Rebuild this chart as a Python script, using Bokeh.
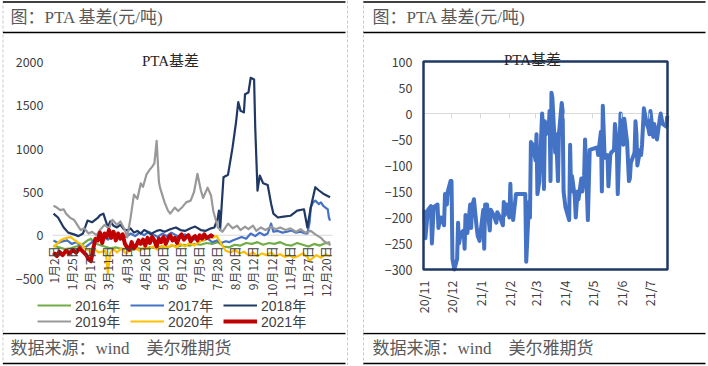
import math
import pandas as pd
from bokeh.plotting import figure
from bokeh.models import Range1d, FixedTicker, Label, BoxAnnotation, Legend, LegendItem
from bokeh.layouts import row, column
from bokeh.embed import file_html
from bokeh.resources import INLINE

# ---------------- data ----------------
HEADER = "图：PTA 基差(元/吨)"
FOOTER = "数据来源：wind\u3000美尔雅期货"
CHART_TITLE = "PTA基差"

# left chart: trading-day index within the year
left_ticks = [0, 16, 32, 48, 64, 80, 96, 112, 128, 144, 160, 176, 192, 208, 224, 240]
left_tick_labels = ["1月2日", "1月25日", "2月17日", "3月11日", "4月3日", "4月26日",
                    "5月20日", "6月12日", "7月5日", "7月28日", "8月20日", "9月12日",
                    "10月12日", "11月4日", "11月27日", "12月20日"]
left_yticks = [-500, 0, 500, 1000, 1500, 2000]
years = ["2016年", "2017年", "2018年", "2019年", "2020年", "2021年"]

s2016_x = [0, 5, 10, 15, 20, 25, 30, 33, 36, 40, 45, 50, 55, 60, 65, 70, 75, 80, 85, 90,
           95, 100, 105, 110, 115, 120, 125, 130, 135, 140, 145, 150, 155, 160, 165, 170,
           175, 180, 185, 190, 195, 200, 205, 210, 215, 220, 225, 230, 235, 240, 244]
s2016_y = [-120, -140, -160, -150, -130, -110, -60, -40, -90, -110, -130, -150, -140, -160,
           -150, -170, -150, -160, -140, -150, -130, -140, -120, -130, -110, -120, -100,
           -110, -90, -100, -80, -130, -140, -110, -120, -90, -100, -80, -110, -90, -100,
           -80, -110, -120, -90, -110, -130, -100, -120, -90, -100]

s2017_x = [0, 4, 8, 12, 16, 20, 24, 28, 32, 36, 40, 44, 48, 52, 56, 60, 64, 68, 72, 76,
           80, 84, 88, 92, 96, 100, 104, 108, 112, 116, 120, 124, 128, 132, 136, 140, 144,
           148, 152, 155, 158, 162, 166, 170, 174, 178, 182, 186, 189, 192, 194, 198, 202,
           206, 210, 214, 218, 222, 224, 226, 227, 229, 231, 234, 236, 238, 240, 242, 243, 244]
s2017_y = [-60, -90, -70, -60, -100, -80, -120, -140, -100, -60, -40, -20, -50, -10, -30,
           10, -20, 20, -10, 30, 0, 40, 10, -20, 20, -10, 30, 0, -30, 10, -20, -50, -20,
           -60, -40, -80, -60, -90, -70, -80, -60, -40, -20, -40, 20, -10, 30, 0, 20, 135,
           40, 50, 30, 40, 55, 30, 40, 20, 20, 150, 320, 380, 400, 360, 380, 340, 320, 300,
           205, 170]

s2018_x = [0, 4, 9, 13, 18, 22, 26, 30, 34, 39, 41, 44, 48, 50, 53, 56, 59, 62, 65, 68,
           71, 74, 77, 80, 83, 86, 88, 91, 94, 98, 103, 108, 112, 116, 121, 125, 130, 134,
           139, 142, 145, 146, 147, 150, 154, 158, 161, 163, 165, 168, 169, 172, 174, 177,
           178, 180, 182, 185, 189, 192, 194, 198, 203, 209, 215, 221, 224, 227, 231, 234,
           238, 244]
s2018_y = [250, 205, 90, 30, 10, -10, 20, 170, 150, 200, 230, 250, 90, 160, 110, 90, 120,
           70, 55, 80, 30, 50, 20, 60, 40, 10, 30, 50, 60, 40, 70, 90, 60, 50, 80, 100, 60,
           50, 80, 90, 205, 285, 60, 670, 700, 1015, 1300, 1540, 1440, 1420, 1630, 1650,
           1820, 1800, 1245, 515, 690, 600, 580, 365, 250, 205, 215, 225, 285, 300, 90, 320,
           555, 520, 480, 440]

s2019_x = [0, 3, 6, 9, 11, 15, 18, 21, 24, 27, 31, 34, 38, 41, 45, 49, 52, 56, 59, 63,
           65, 68, 71, 74, 77, 79, 82, 85, 87, 89, 91, 93, 94, 98, 101, 103, 107, 110, 114,
           117, 121, 124, 127, 130, 132, 136, 139, 141, 145, 149, 154, 158, 162, 165, 169,
           172, 176, 179, 183, 187, 192, 196, 200, 205, 209, 214, 218, 222, 227, 231, 236,
           238, 241, 243, 244]
s2019_y = [340, 320, 290, 300, 250, 200, 180, 120, 60, 80, 20, 40, 0, 60, 120, 80, 180,
           120, 160, 60, -25, 200, 470, 420, 600, 560, 700, 760, 790, 830, 1090, 620, 550,
           380, 285, 250, 320, 280, 330, 380, 400, 500, 710, 520, 430, 550, 460, 280, 90,
           40, 135, 80, 110, 60, 100, 70, 110, 50, 90, 60, 100, 70, 90, 60, 80, 40, 70, 30,
           50, 10, -30, -60, -90, -80, -120]

s2020_x = [0, 3, 6, 9, 12, 15, 18, 21, 24, 27, 30, 33, 36, 40, 46, 48, 50, 53, 56, 60,
           64, 68, 72, 76, 80, 84, 88, 92, 96, 100, 104, 108, 112, 116, 120, 124, 128, 132,
           136, 140, 144, 148, 152, 156, 160, 164, 168, 172, 176, 180, 184, 188, 192, 196,
           200, 204, 208, 212, 216, 220, 224, 226, 228, 232, 236, 240, 244]
s2020_y = [-140, -100, -60, -40, -30, -20, -50, -80, -100, -140, -170, -180, -160, -200,
           -180, -440, -200, -160, -200, -150, -210, -170, -150, -180, -140, -160, -130,
           -170, -120, -150, -110, -140, -100, -130, -90, -120, -80, -60, -20, -30, -10,
           -100, -180, -200, -170, -210, -190, -230, -200, -240, -210, -230, -200, -240,
           -220, -250, -230, -260, -240, -210, -250, -300, -270, -230, -260, -220, -240]

s2021_x = [0, 3, 5, 8, 11, 14, 17, 20, 23, 26, 29, 31, 33, 35, 37, 39, 41, 43, 45, 47,
           49, 51, 53, 55, 57, 59, 61, 63, 65, 67, 69, 71, 73, 75, 77, 79, 81, 83, 85, 87,
           89, 91, 93, 95, 97, 99, 101, 103, 105, 107, 109, 111, 113, 115, 117, 119, 121,
           123, 125, 127, 129, 131, 133, 135, 137, 139, 141]
s2021_y = [-200, -240, -190, -230, -180, -210, -170, -200, -150, -190, -230, -280, -300,
           -160, -40, -60, 30, -90, 20, -20, 60, -30, 40, -60, 20, -40, 10, -100, -140,
           -170, -80, -150, -120, -60, -100, -50, -120, -30, -90, -20, -60, -130, -40, -80,
           -20, -100, -40, 0, -60, -30, -90, -20, 10, -50, -20, 0, -70, -30, -10, -60, 0,
           -40, 10, -30, -20, 0, -20]

# right chart: daily basis, Nov 2020 - Jul 2021
right_dates = [
    "2020-11-02", "2020-11-03", "2020-11-05", "2020-11-06", "2020-11-09", "2020-11-10",
    "2020-11-12", "2020-11-16", "2020-11-17", "2020-11-19", "2020-11-20", "2020-11-23",
    "2020-11-24", "2020-11-26", "2020-11-27", "2020-11-30", "2020-12-01", "2020-12-02",
    "2020-12-04", "2020-12-07", "2020-12-08", "2020-12-09", "2020-12-11", "2020-12-14",
    "2020-12-15", "2020-12-16", "2020-12-18", "2020-12-21", "2020-12-22", "2020-12-23",
    "2020-12-25", "2020-12-28", "2020-12-29", "2020-12-31", "2021-01-04", "2021-01-05",
    "2021-01-06", "2021-01-08", "2021-01-11", "2021-01-12", "2021-01-15", "2021-01-18",
    "2021-01-19", "2021-01-22", "2021-01-25", "2021-01-26", "2021-01-27", "2021-01-29",
    "2021-02-01", "2021-02-02", "2021-02-03", "2021-02-04", "2021-02-05", "2021-02-08",
    "2021-02-18", "2021-02-19", "2021-02-22", "2021-02-23", "2021-02-24", "2021-02-26",
    "2021-03-01", "2021-03-02", "2021-03-03", "2021-03-05", "2021-03-08", "2021-03-09",
    "2021-03-10", "2021-03-11", "2021-03-12", "2021-03-15", "2021-03-16", "2021-03-17",
    "2021-03-18", "2021-03-19", "2021-03-22", "2021-03-23", "2021-03-25", "2021-03-26",
    "2021-03-29", "2021-03-30", "2021-03-31", "2021-04-01", "2021-04-02", "2021-04-06",
    "2021-04-07", "2021-04-08", "2021-04-09", "2021-04-12", "2021-04-13", "2021-04-15",
    "2021-04-16", "2021-04-19", "2021-04-20", "2021-04-22", "2021-04-23", "2021-04-26",
    "2021-04-28", "2021-05-06", "2021-05-07", "2021-05-10", "2021-05-11", "2021-05-12",
    "2021-05-14", "2021-05-17", "2021-05-18", "2021-05-20", "2021-05-21", "2021-05-24",
    "2021-05-25", "2021-05-27", "2021-05-28", "2021-05-31", "2021-06-02", "2021-06-03",
    "2021-06-04", "2021-06-07", "2021-06-09", "2021-06-10", "2021-06-11", "2021-06-15",
    "2021-06-16", "2021-06-17", "2021-06-18", "2021-06-21", "2021-06-22", "2021-06-23",
    "2021-06-25", "2021-06-28", "2021-06-30", "2021-07-01", "2021-07-02", "2021-07-05",
    "2021-07-06", "2021-07-08", "2021-07-09", "2021-07-12", "2021-07-13", "2021-07-15",
    "2021-07-19", "2021-07-20"]
right_values = [
    -185, -240, -200, -185, -178, -250, -180, -175, -220, -200, -200, -215, -155, -175,
    -150, -130, -130, -280, -300, -280, -210, -250, -230, -225, -260, -195, -230, -175,
    -220, -180, -165, -220, -235, -245, -185, -260, -175, -175, -225, -185, -195, -210,
    -190, -200, -215, -170, -195, -175, -200, -135, -195, -180, -205, -155, -155, -285,
    -170, -200, -55, -60, -90, -40, -155, -130, 0, -25, -145, -15, -40, -30, 5, -130, 40,
    30, -75, -40, -130, -40, 20, 5, -150, -165, -180, -205, -60, -150, -120, -160, -200,
    -150, -165, -125, -150, -120, -50, -205, -70, -65, -80, -35, -150, 15, -85, -80, -140,
    -80, -75, -70, -20, -60, -155, 0, -50, -60, -10, -55, -130, -125, -95, -75, -15, -40,
    -100, -70, -80, -60, 10, -20, -30, -40, 5, -45, -20, -40, -50, -10, 0, -20, -25, -5]
right_month_ticks = ["2020-11-01", "2020-12-01", "2021-01-01", "2021-02-01", "2021-03-01",
                     "2021-04-01", "2021-05-01", "2021-06-01", "2021-07-01"]
right_tick_labels = ["20/11", "20/12", "21/1", "21/2", "21/3", "21/4", "21/5", "21/6", "21/7"]
right_yticks = [-300, -250, -200, -150, -100, -50, 0, 50, 100]

# ---------------- styling ----------------
CJK = "Noto Sans CJK SC"
LEG_FONT = "'Liberation Sans', 'Noto Sans CJK SC'"
HEAD_FONT = "'Liberation Serif', 'Noto Sans CJK SC'"
TXT = "#404040"
DASH = "#c8c8c8"
series_colors = ["#70ad47", "#4472c4", "#203864", "#999999", "#ffc000", "#c00000"]
series_widths = [2.2, 2.2, 2.2, 2.2, 2.2, 4.0]
DAY = 86400000.0


def blank_fig(w, h):
    p = figure(width=w, height=h, x_range=Range1d(0, w), y_range=Range1d(h, 0),
               x_axis_location=None, y_axis_location=None, output_backend="svg",
               toolbar_location=None, min_border=0, outline_line_color=None)
    p.grid.visible = False
    return p


def header_fig(w, h, dashes, x0, x1, text_x, text):
    p = blank_fig(w, h)
    p.segment(x0=dashes, y0=[0] * len(dashes), x1=dashes, y1=[h] * len(dashes),
              line_color=DASH, line_dash="3 2", line_width=1)
    p.segment(x0=[x0, x0], y0=[1.5, h - 2], x1=[x1, x1], y1=[1.5, h - 2],
              line_color="black", line_width=1.5)
    p.add_layout(Label(x=text_x, y=16.5, text=text, text_font=HEAD_FONT,
                       text_font_size="17px", text_color="#595959",
                       text_baseline="middle", text_align="left"))
    return p


def footer_fig(w, h, dashes, x0, x1, text_x, text):
    p = blank_fig(w, h)
    p.segment(x0=dashes, y0=[0] * len(dashes), x1=dashes, y1=[h] * len(dashes),
              line_color=DASH, line_dash="3 2", line_width=1)
    p.segment(x0=[x0, x0], y0=[1, 31], x1=[x1, x1], y1=[1, 31],
              line_color="black", line_width=1.5)
    p.add_layout(Label(x=text_x, y=16, text=text, text_font=HEAD_FONT,
                       text_font_size="17px", text_color="#595959",
                       text_baseline="middle", text_align="left"))
    return p


def plain(p):
    p.grid.visible = False
    p.outline_line_color = None
    p.background_fill_color = "white"
    p.border_fill_color = "white"


def axis_style(ax, standoff, size):
    ax.axis_line_color = None
    ax.major_tick_line_color = None
    ax.minor_tick_line_color = None
    ax.major_tick_out = 0
    ax.major_tick_in = 0
    ax.minor_tick_out = 0
    ax.minor_tick_in = 0
    ax.major_label_standoff = standoff
    ax.major_label_text_font = CJK
    ax.major_label_text_font_size = size
    ax.major_label_text_color = TXT


# ---------------- left chart ----------------
LW, CH = 354, 298
lppx = 272 / 240.0                      # pixels per trading day
l_x0 = -53 / lppx
l_x1 = 240 + (LW - 325) / lppx
lpy = 216.3 / 2500.0                    # pixels per unit
l_y1 = 2000 + (61.7 - 34) / lpy
l_y0 = -500 - (332 - 278) / lpy

lp = figure(width=LW, height=CH, output_backend="svg", toolbar_location=None,
            x_range=Range1d(l_x0, l_x1), y_range=Range1d(l_y0, l_y1),
            min_border=0, min_border_left=0, min_border_right=0,
            min_border_top=0, min_border_bottom=0)
plain(lp)
# cell borders (dashed) and zero line
for xp in (2.5, 347):
    xv = l_x0 + xp / lppx
    lp.segment(x0=[xv], y0=[l_y0], x1=[xv], y1=[l_y1], line_color=DASH,
               line_dash="3 2", line_width=1)
lp.segment(x0=[-0.9], y0=[0], x1=[246.3], y1=[0], line_color="#d9d9d9", line_width=1)

xa = lp.xaxis[0]
xa.fixed_location = 0
xa.ticker = FixedTicker(ticks=left_ticks)
xa.major_label_overrides = {t: s for t, s in zip(left_ticks, left_tick_labels)}
xa.major_label_orientation = math.pi / 2
axis_style(xa, 11, "12px")

ya = lp.yaxis[0]
ya.fixed_location = -0.9
ya.ticker = FixedTicker(ticks=left_yticks)
axis_style(ya, 9, "12.5px")

xs = [s2016_x, s2017_x, s2018_x, s2019_x, s2020_x, s2021_x]
ys = [s2016_y, s2017_y, s2018_y, s2019_y, s2020_y, s2021_y]
items = []
for name, x, y, c, w in zip(years, xs, ys, series_colors, series_widths):
    r = lp.line(x, y, line_color=c, line_width=w, line_join="round")
    items.append(LegendItem(label=name, renderers=[r]))


def make_legend(its, loc):
    return Legend(items=its, location=loc, orientation="horizontal",
                  glyph_width=34, glyph_height=14, label_height=14, label_width=53,
                  label_standoff=4, spacing=2, padding=0, margin=0,
                  border_line_color=None, background_fill_alpha=0,
                  label_text_font=LEG_FONT, label_text_font_size="14px",
                  label_text_color=TXT)


lp.add_layout(make_legend(items[:3], (37, 17.5)))
lp.add_layout(make_legend(items[3:], (37, 1.5)))

lp.add_layout(Label(x=(170 - 53) / lppx, y=(234.8 - 61) / lpy, text=CHART_TITLE,
                    text_font=HEAD_FONT, text_font_size="15px", text_color="#262626",
                    text_align="center", text_baseline="middle"))

# ---------------- right chart ----------------
RW = 353
rd = pd.to_datetime(right_dates)
tick_ms = [int(pd.Timestamp(d).value // 10**6) for d in right_month_ticks]
t0 = tick_ms[0]
ppd = 226 / 242.0                      # pixels per day
x_start = t0 - 69 / ppd * DAY
x_end = t0 + (RW - 69) / ppd * DAY
frame_right = t0 + (313 - 69) / ppd * DAY
rpy = 208 / 400.0
r_y1 = 100 + (61 - 34) / rpy
r_y0 = -300 - (332 - 269) / rpy

rp = figure(width=RW, height=CH, output_backend="svg", toolbar_location=None,
            x_axis_type="datetime",
            x_range=Range1d(x_start, x_end), y_range=Range1d(r_y0, r_y1),
            min_border=0, min_border_left=0, min_border_right=0,
            min_border_top=0, min_border_bottom=0)
plain(rp)
xv = x_start + 9 / ppd * DAY
rp.segment(x0=[xv], y0=[r_y0], x1=[xv], y1=[r_y1], line_color=DASH,
           line_dash="3 2", line_width=1)
rp.segment(x0=[t0], y0=[0], x1=[frame_right], y1=[0], line_color="#d9d9d9", line_width=1)

# x axis crosses at 0 (ticks there), labels sit below the plot area
rxa = rp.xaxis[0]
rxa.fixed_location = 0
rxa.ticker = FixedTicker(ticks=tick_ms)
rxa.major_label_overrides = {t: s for t, s in zip(tick_ms, right_tick_labels)}
rxa.major_label_orientation = math.pi / 2
axis_style(rxa, int(round((280 - 113) - 5)), "12.5px")
rxa.major_tick_line_color = "#d9d9d9"
rxa.major_tick_out = 5

rya = rp.yaxis[0]
rya.fixed_location = t0
rya.ticker = FixedTicker(ticks=right_yticks)
axis_style(rya, 11, "12.5px")

rp.line(rd, right_values, line_color="#4472c4", line_width=4, line_join="round")

rp.add_layout(BoxAnnotation(left=t0, right=frame_right, top=100, bottom=-300,
                            fill_color=None, fill_alpha=0, line_color="#1f3864",
                            line_width=2.5, line_alpha=1))

rp.add_layout(Label(x=t0 + (532 - 423) / ppd * DAY, y=(113 - 59) / rpy, text=CHART_TITLE,
                    text_font=HEAD_FONT, text_font_size="15px", text_color="#262626",
                    text_align="center", text_baseline="middle"))

# ---------------- assemble ----------------
left_col = column(header_fig(LW, 34, [2.5, 347], 2.5, 345, 10, HEADER), lp,
                  footer_fig(LW, 33, [2.5, 347], 2.5, 345, 10, FOOTER))
right_col = column(header_fig(RW, 34, [9], 9, 351, 18, HEADER), rp,
                   footer_fig(RW, 33, [9], 9, 351, 18, FOOTER))
layout = row(left_col, right_col)
open("out.html", "w").write(file_html(layout, INLINE))
